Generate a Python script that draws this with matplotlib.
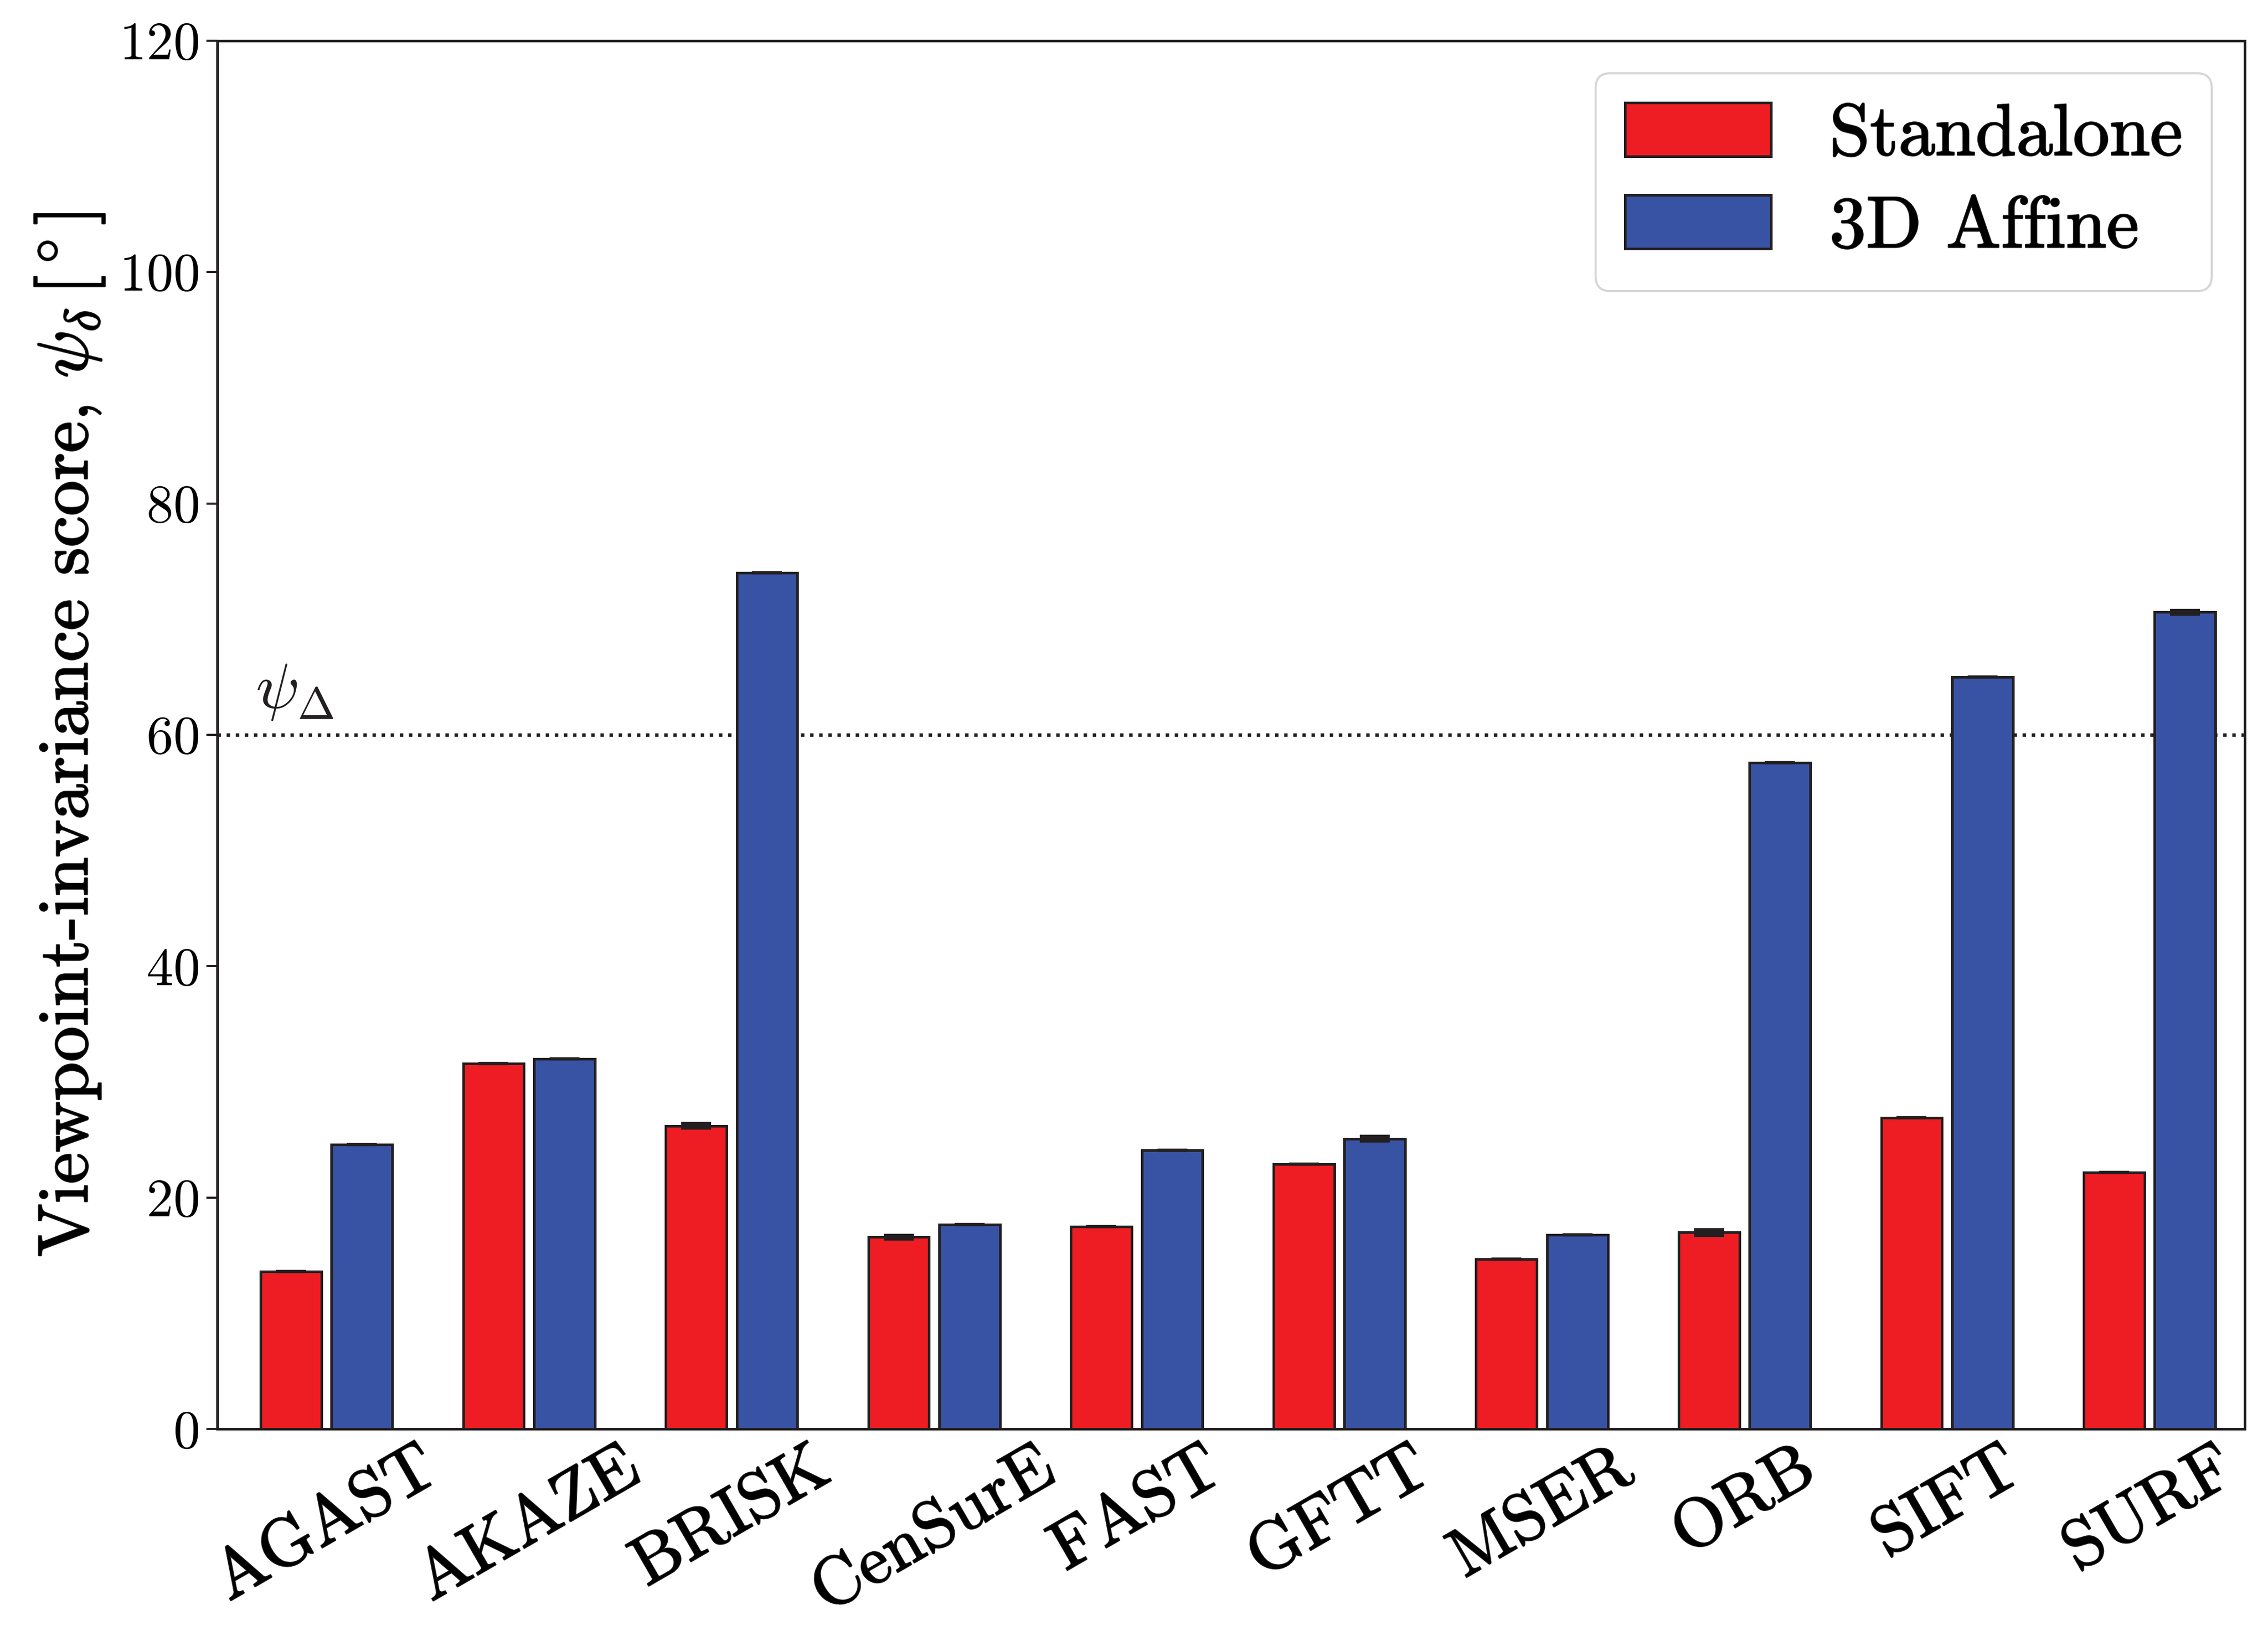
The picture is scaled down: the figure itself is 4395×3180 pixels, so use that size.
import numpy as np
import matplotlib
matplotlib.use("Agg")
import matplotlib.pyplot as plt
import matplotlib.patheffects as pe

plt.rcParams['font.family'] = 'serif'
plt.rcParams['font.serif'] = ['cmr10']
plt.rcParams['mathtext.fontset'] = 'cm'
plt.rcParams['axes.formatter.use_mathtext'] = True

detectors = ["AGAST", "AKAZE", "BRISK", "CenSurE", "FAST",
             "GFTT", "MSER", "ORB", "SIFT", "SURF"]
standalone = [13.6, 31.6, 26.2, 16.6, 17.5, 22.9, 14.7, 17.0, 26.9, 22.2]
standalone_err = [0.0, 0.0, 0.2, 0.15, 0.0, 0.0, 0.0, 0.25, 0.0, 0.0]
affine = [24.6, 32.0, 74.0, 17.7, 24.1, 25.1, 16.8, 57.6, 65.0, 70.6]
affine_err = [0.0, 0.0, 0.0, 0.0, 0.0, 0.2, 0.0, 0.0, 0.0, 0.15]
threshold = 60

RED = "#ee1d23"
BLUE = "#3953a4"
EDGE = "#231f20"

# thicken the glyphs a little, the original was rendered by LaTeX
bold = [pe.withStroke(linewidth=0.7, foreground=EDGE)]

fig = plt.figure(figsize=(14.65, 10.6), dpi=300)
ax = fig.add_axes([0.0957, 0.1291, 0.8941, 0.8462])

x = np.arange(len(detectors))
w = 0.3
off = 0.175
err_kw = dict(ecolor=EDGE, capsize=7, elinewidth=1.5, capthick=1.5)
ax.bar(x - off, standalone, w, yerr=standalone_err, color=RED, edgecolor=EDGE,
       linewidth=1.2, label="Standalone", error_kw=err_kw, zorder=2)
ax.bar(x + off, affine, w, yerr=affine_err, color=BLUE, edgecolor=EDGE,
       linewidth=1.2, label="3D Affine", error_kw=err_kw, zorder=2)

ax.axhline(threshold, color=EDGE, linestyle=':', linewidth=1.6, zorder=1)
ax.text(-0.35, threshold + 2.3, r"$\psi_\Delta$", fontsize=30, color=EDGE)

ax.set_xlim(-0.54, 9.47)
ax.set_ylim(0, 120)
ax.set_yticks(np.arange(0, 121, 20))
ax.set_xticks(x)
ax.set_xticklabels(detectors, rotation=30, ha='center', fontsize=32)
ax.tick_params(axis='x', length=0, pad=4)
ax.tick_params(axis='y', labelsize=25, length=5, width=1, color=EDGE)
ax.set_ylabel(r"Viewpoint-invariance score, $\psi_\delta\,[^\circ]$", fontsize=33,
              labelpad=6)
for s in ax.spines.values():
    s.set_linewidth(1.2)
    s.set_color(EDGE)

for t in ax.get_xticklabels():
    t.set_path_effects(bold)
ax.yaxis.label.set_path_effects(bold)

leg = ax.legend(loc='upper right', fontsize=34, handlelength=2.0, handleheight=0.75,
                borderpad=0.4, labelspacing=0.35, handletextpad=0.8,
                borderaxespad=0.45)
for t in leg.get_texts():
    t.set_path_effects(bold)

fig.savefig("out.png", dpi=300)
